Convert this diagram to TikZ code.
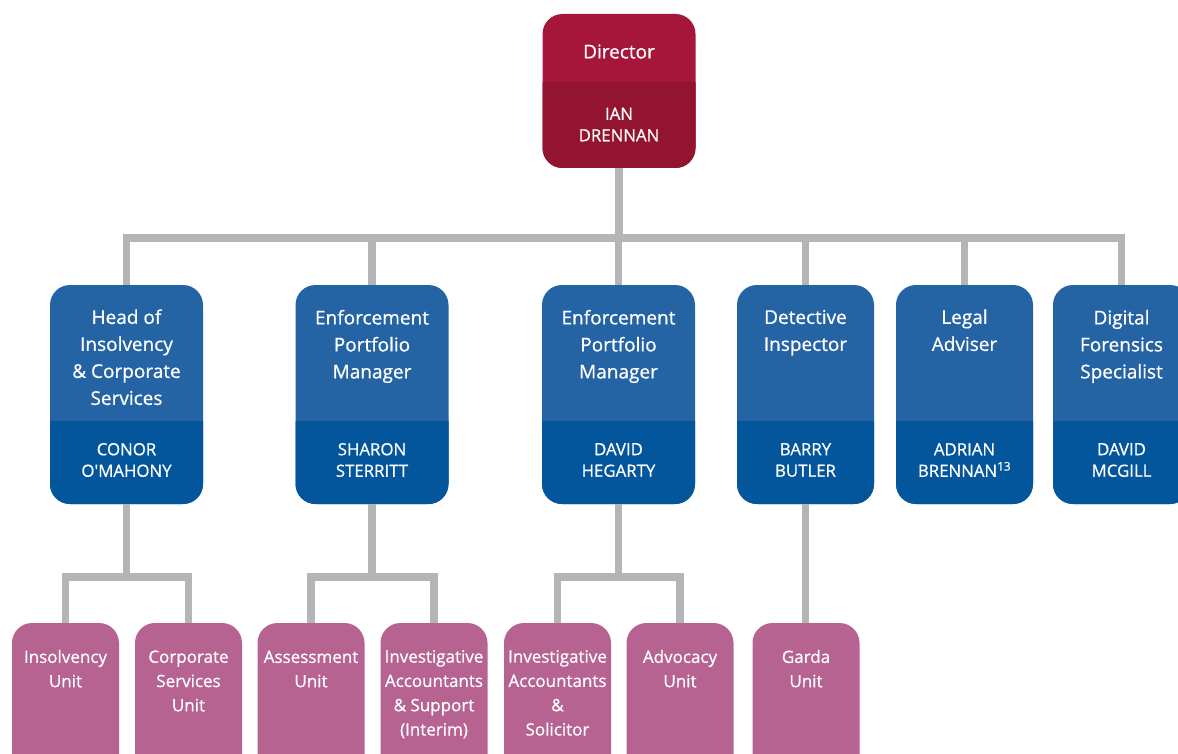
\documentclass[tikz,border=0pt]{standalone}
\usepackage{fontspec}
\setmainfont{Open Sans}[FakeBold=0.7]
\definecolor{dirtop}{HTML}{A6163A}
\definecolor{dirbot}{HTML}{93142E}
\definecolor{bluetop}{HTML}{2463A4}
\definecolor{bluebot}{HTML}{03559C}
\definecolor{pinkc}{HTML}{B76392}
\definecolor{linegrey}{HTML}{B4B5B7}
\newcommand\orgbox[8]{% name, cx, width, top, split, bottom, topcolour, bottomcolour
  \pgfmathsetmacro\bxl{#2-#3/2}\pgfmathsetmacro\bxr{#2+#3/2}%
  \pgfmathsetmacro\bym{(#4+#6)/2}\pgfmathsetmacro\byh{#6-#4}%
  \node[shapebox, fill=#7, minimum width=#3pt, minimum height=\byh pt] (#1) at (#2,\bym) {};
  \begin{scope}
    \clip (\bxl,#5) rectangle (\bxr,#6);
    \fill[#8, rounded corners=20pt] (#1.north west) rectangle (#1.south east);
  \end{scope}}
\newcommand\lnst{\strut}
\begin{document}
\begin{tikzpicture}[x=1pt,y=-1pt,
  conn/.style={draw=linegrey, line width=7.5pt},
  shapebox/.style={rounded corners=20pt, inner sep=0pt, outer sep=0pt},
  ttl/.style={text=white, align=center, font=\fontsize{19}{27}\selectfont, inner sep=0pt},
  nm/.style={text=white, align=center, font=\fontsize{16.8}{21.5}\selectfont, inner sep=0pt},
  unit/.style={text=white, align=center, font=\fontsize{17}{24.3}\selectfont, inner sep=0pt}]
\useasboundingbox (0,0) rectangle (1178,754);
\clip (0,0) rectangle (1178,754);

% Director
\orgbox{dir}{619}{153}{14}{83}{168}{dirtop}{dirbot}
\node[ttl] (dirT) at (619,53) {\lnst Director};
\node[nm] (dirN) at (619,124.5) {IAN\\DRENNAN};

% Managers
\orgbox{m1}{126.5}{153}{285}{421.5}{504}{bluetop}{bluebot}
\orgbox{m2}{372}{153}{285}{421.5}{504}{bluetop}{bluebot}
\orgbox{m3}{618.5}{153}{285}{421.5}{504}{bluetop}{bluebot}
\orgbox{m4}{805.5}{137}{285}{421.5}{504}{bluetop}{bluebot}
\orgbox{m5}{964.5}{137}{285}{421.5}{504}{bluetop}{bluebot}
\orgbox{m6}{1121.5}{137}{285}{421.5}{504}{bluetop}{bluebot}

\node[ttl] (m1T) at (126.5,359) {\lnst Head of\\\lnst Insolvency\\\lnst\& Corporate\\\lnst Services};
\node[ttl] (m2T) at (372,346) {\lnst Enforcement\\\lnst Portfolio\\\lnst Manager};
\node[ttl] (m3T) at (618.5,346) {\lnst Enforcement\\\lnst Portfolio\\\lnst Manager};
\node[ttl] (m4T) at (805.5,332) {\lnst Detective\\\lnst Inspector};
\node[ttl] (m5T) at (964.5,332) {\lnst Legal\\\lnst Adviser};
\node[ttl] (m6T) at (1121.5,346) {\lnst Digital\\\lnst Forensics\\\lnst Specialist};

\node[nm] (m1N) at (126.5,460) {CONOR\\O\textquotesingle MAHONY};
\node[nm] (m2N) at (372,460) {SHARON\\STERRITT};
\node[nm] (m3N) at (618.5,460) {DAVID\\HEGARTY};
\node[nm] (m4N) at (805.5,460) {BARRY\\BUTLER};
\node[nm] (m5N) at (964.5,460) {ADRIAN\\BRENNAN\textsuperscript{13}};
\node[nm] (m6N) at (1121.5,460) {DAVID\\MCGILL};

% Units
\node[shapebox, fill=pinkc, minimum width=107pt, minimum height=160pt] (p1) at (65.5,703) {};
\node[shapebox, fill=pinkc, minimum width=107pt, minimum height=160pt] (p2) at (188.5,703) {};
\node[shapebox, fill=pinkc, minimum width=107pt, minimum height=160pt] (p3) at (311,703) {};
\node[shapebox, fill=pinkc, minimum width=107pt, minimum height=160pt] (p4) at (434,703) {};
\node[shapebox, fill=pinkc, minimum width=107pt, minimum height=160pt] (p5) at (557.5,703) {};
\node[shapebox, fill=pinkc, minimum width=107pt, minimum height=160pt] (p6) at (680,703) {};
\node[shapebox, fill=pinkc, minimum width=107pt, minimum height=160pt] (p7) at (806,703) {};

\node[unit] (p1T) at (65.5,670.2) {\lnst Insolvency\\\lnst Unit};
\node[unit] (p2T) at (188.5,682.2) {\lnst Corporate\\\lnst Services\\\lnst Unit};
\node[unit] (p3T) at (311,670.2) {\lnst Assessment\\\lnst Unit};
\node[unit] (p4T) at (434,694.2) {\lnst Investigative\\\lnst Accountants\\\lnst\& Support\\\lnst(Interim)};
\node[unit] (p5T) at (557.5,694.2) {\lnst Investigative\\\lnst Accountants\\\lnst\&\\\lnst Solicitor};
\node[unit] (p6T) at (680,670.2) {\lnst Advocacy\\\lnst Unit};
\node[unit] (p7T) at (806,670.2) {\lnst Garda\\\lnst Unit};

% Connectors
\coordinate (busY) at (0,238);
\coordinate (subY) at (0,577);
\draw[conn] (dir.south) -- (dir.south |- busY);
\draw[conn] (m1.north) -- (m1.north |- busY) -- (m6.north |- busY) -- (m6.north);
\draw[conn] (m2.north) -- (m2.north |- busY);
\draw[conn] (m3.north) -- (m3.north |- busY);
\draw[conn] (m4.north) -- (m4.north |- busY);
\draw[conn] (m5.north) -- (m5.north |- busY);

\draw[conn] (m1.south) -- (m1.south |- subY);
\draw[conn] (p1.north) -- (p1.north |- subY) -- (p2.north |- subY) -- (p2.north);
\draw[conn] (m2.south) -- (m2.south |- subY);
\draw[conn] (p3.north) -- (p3.north |- subY) -- (p4.north |- subY) -- (p4.north);
\draw[conn] (m3.south) -- (m3.south |- subY);
\draw[conn] (p5.north) -- (p5.north |- subY) -- (p6.north |- subY) -- (p6.north);
\draw[conn] (m4.south) -- (m4.south |- p7.north);
\end{tikzpicture}
\end{document}
